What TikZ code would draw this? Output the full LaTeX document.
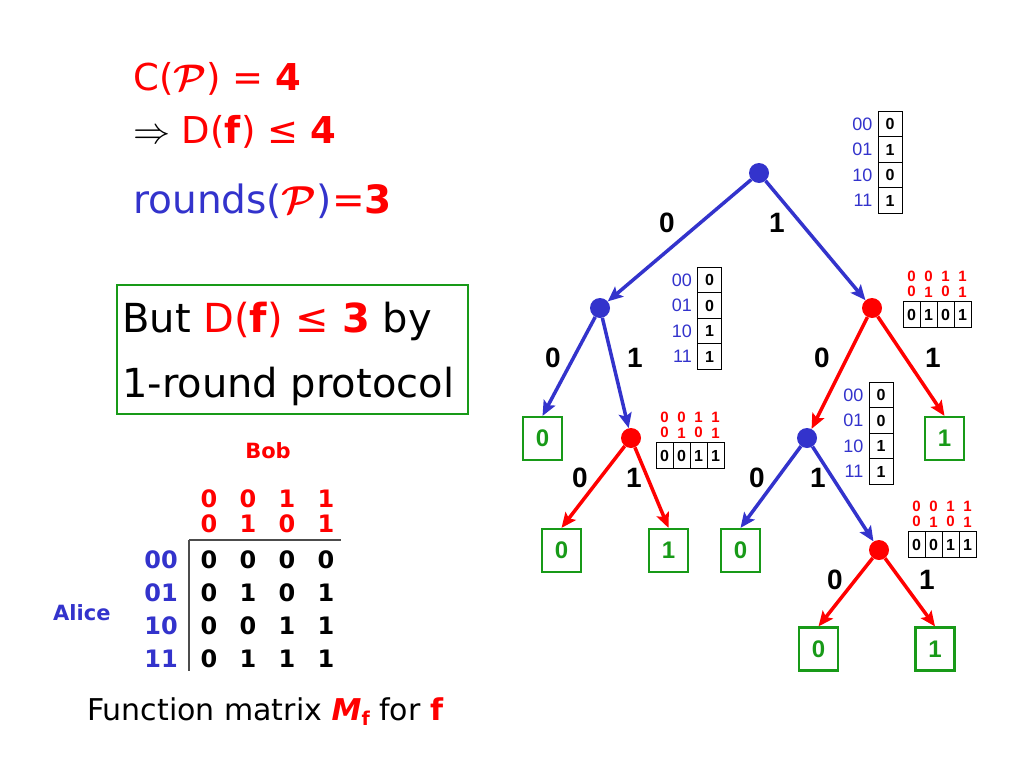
\RequirePackage{fix-cm}
\documentclass[tikz,border=0pt]{standalone}
\usepackage{fontspec}
\setmainfont{DejaVu Sans}
\newfontfamily\arialfont{Liberation Sans}
\usetikzlibrary{arrows.meta,positioning}
\definecolor{alice}{HTML}{3333CC}
\definecolor{bob}{HTML}{FF0000}
\definecolor{leafgreen}{HTML}{189A18}
\newcommand{\fsz}[1]{\fontsize{#1}{#1}\selectfont}

\tikzset{
  adot/.style={circle,fill=alice,minimum size=20pt,inner sep=0pt},
  bdot/.style={circle,fill=bob,minimum size=20pt,inner sep=0pt},
  leaf/.style={draw=leafgreen,line width=2.2pt,minimum width=39pt,minimum height=43pt,inner sep=0pt,text=leafgreen,font=\arialfont\bfseries\fsz{24}},
  aedge/.style={alice,line width=3.5pt,-{Stealth[length=15pt,width=13pt,inset=3pt]}},
  bedge/.style={bob,line width=3.5pt,-{Stealth[length=15pt,width=13pt,inset=3pt]}},
  elab/.style={font=\arialfont\bfseries\fsz{28},inner sep=0pt},
  vcell/.style={draw,line width=1pt,minimum width=24pt,minimum height=25.5pt,inner sep=0pt,font=\arialfont\bfseries\fsz{16}},
  hcell/.style={draw,line width=1pt,minimum width=17pt,minimum height=25.5pt,inner sep=0pt,font=\arialfont\bfseries\fsz{16}},
  tlab/.style={text=alice,font=\arialfont\fsz{18},inner sep=0pt,label distance=5pt},
  thead/.style={text=bob,align=center,font=\arialfont\bfseries\fontsize{15}{15.5}\selectfont,inner sep=0pt,label distance=4pt},
  headline/.style={font=\fsz{37},inner sep=0pt,anchor=base west},
  claimline/.style={font=\fsz{40},inner sep=0pt,anchor=base west},
  who/.style={font=\bfseries\fsz{21},inner sep=0pt},
  mdigit/.style={font=\bfseries\fsz{24},inner sep=0pt,anchor=base},
  mline/.style={line width=1.3pt,black!70},
}

\begin{document}
\begin{tikzpicture}[x=1pt,y=-1pt]
\fill[white] (0,0) rectangle (1024,768);
% claims on the left
\node[headline] (cost) at (133,90) {\textcolor{bob}{C({\boldmath$\mathcal{P}$}) = \textbf{4}}};
\node[headline] (dbound) at (133,143) {$\Rightarrow$ \textcolor{bob}{D(\textbf{f}) ≤ \textbf{4}}};
\node[headline,font=\fsz{39}] (rounds) at (133,213) {\textcolor{alice}{rounds(}\textcolor{bob}{\boldmath$\mathcal{P}$}\textcolor{alice}{)}\textcolor{bob}{=\textbf{3}}};
\node[draw=leafgreen,line width=2.5pt,minimum width=351pt,minimum height=129pt] (claimbox) at (292.5,349.5) {};
\node[claimline] (claimA) at (122,332) {But \textcolor{bob}{D(\textbf{f}) ≤ \textbf{3}} by};
\node[claimline] (claimB) at (122,397) {1-round protocol};
% function matrix
\node[who,text=bob,anchor=base] (bob) at (268,458) {Bob};
\node[who,text=alice,anchor=base west] (alice) at (53,620) {Alice};
\foreach \x/\u/\v [count=\c] in {209/0/0,248/0/1,287/1/0,326/1/1} {
  \node[mdigit,text=bob] (bA\c) at (\x,507) {\u};
  \node[mdigit,text=bob] (bB\c) at (\x,532) {\v};
}
\foreach \r/\y/\vals in {00/568/{0,0,0,0},01/601/{0,1,0,1},10/634/{0,0,1,1},11/667/{0,1,1,1}} {
  \node[mdigit,text=alice,anchor=base east] (a\r) at (178,\y) {\r};
  \foreach \v [count=\c] in \vals
    \node[mdigit] (m\r-\c) at (170+39*\c,\y) {\v};
}
\draw[mline] (189,540) -- (341,540);
\draw[mline] (189,540) -- (189,671);
\node[font=\fsz{30},inner sep=0pt,anchor=base west] (caption) at (87,720)
  {Function matrix \textcolor{bob}{\textbf{\textit{M}}\raisebox{-5pt}{\bfseries\fsz{19}f}} for \textcolor{bob}{\textbf{f}}};
% protocol tree
\node[adot] (root) at (759,173) {};
\node[adot] (nL) at (600,308) {};
\node[bdot] (nR) at (872,308) {};
\node[leaf] (lfA) at (542.5,438.5) {0};
\node[bdot] (nLR) at (631,438) {};
\node[adot] (nRL) at (807,438) {};
\node[leaf] (lfB) at (944.5,438.5) {1};
\node[leaf] (lfC) at (561.5,550.5) {0};
\node[leaf] (lfD) at (668.5,550.5) {1};
\node[leaf] (lfE) at (740.5,550.5) {0};
\node[bdot] (nRLR) at (879,550) {};
\node[leaf] (lfF) at (818.5,649) {0};
\node[leaf] (lfG) at (935,649) {1};
\draw[aedge] (root) -- (nL);
\draw[aedge] (root) -- (nR);
\draw[aedge] (nL) -- (lfA.north);
\draw[aedge] (nL) -- (nLR);
\draw[bedge] (nR) -- (nRL);
\draw[bedge] (nR) -- (lfB.north);
\draw[bedge] (nLR) -- (lfC.north);
\draw[bedge] (nLR) -- (lfD.north);
\draw[aedge] (nRL) -- (lfE.north);
\draw[aedge] (nRL) -- (nRLR);
\draw[bedge] (nRLR) -- (lfF.north);
\draw[bedge] (nRLR) -- (lfG.north);
% edge labels
\node[elab] (eRoot0) at (667,223) {0};
\node[elab] (eRoot1) at (777,223) {1};
\node[elab] (eL0) at (553,358) {0};
\node[elab] (eL1) at (635,358) {1};
\node[elab] (eR0) at (822,358) {0};
\node[elab] (eR1) at (933,358) {1};
\node[elab] (eLR0) at (580,478) {0};
\node[elab] (eLR1) at (634,478) {1};
\node[elab] (eRL0) at (757,478) {0};
\node[elab] (eRL1) at (818,478) {1};
\node[elab] (eRLR0) at (835,580) {0};
\node[elab] (eRLR1) at (927,580) {1};
% Alice's messages
\foreach \r/\v [count=\i] in {00/0,01/1,10/0,11/1}
  \node[vcell,label={[tlab]left:\r}] (tRoot\i) at (890,98.5+25.5*\i) {\v};
\foreach \r/\v [count=\i] in {00/0,01/0,10/1,11/1}
  \node[vcell,label={[tlab]left:\r}] (tL\i) at (709.5,254.5+25.5*\i) {\v};
\foreach \r/\v [count=\i] in {00/0,01/0,10/1,11/1}
  \node[vcell,label={[tlab]left:\r}] (tRL\i) at (881,369.5+25.5*\i) {\v};
% Bob's messages
\foreach \a/\b/\v [count=\i] in {0/0/0,0/1/1,1/0/0,1/1/1}
  \node[hcell,label={[thead]above:\a\\\b}] (tR\i) at (894.5+17*\i,314.5) {\v};
\foreach \a/\b/\v [count=\i] in {0/0/0,0/1/0,1/0/1,1/1/1}
  \node[hcell,label={[thead]above:\a\\\b}] (tLR\i) at (647.5+17*\i,455.5) {\v};
\foreach \a/\b/\v [count=\i] in {0/0/0,0/1/0,1/0/1,1/1/1}
  \node[hcell,label={[thead]above:\a\\\b}] (tRLR\i) at (899.5+17*\i,544.5) {\v};
\end{tikzpicture}
\end{document}
